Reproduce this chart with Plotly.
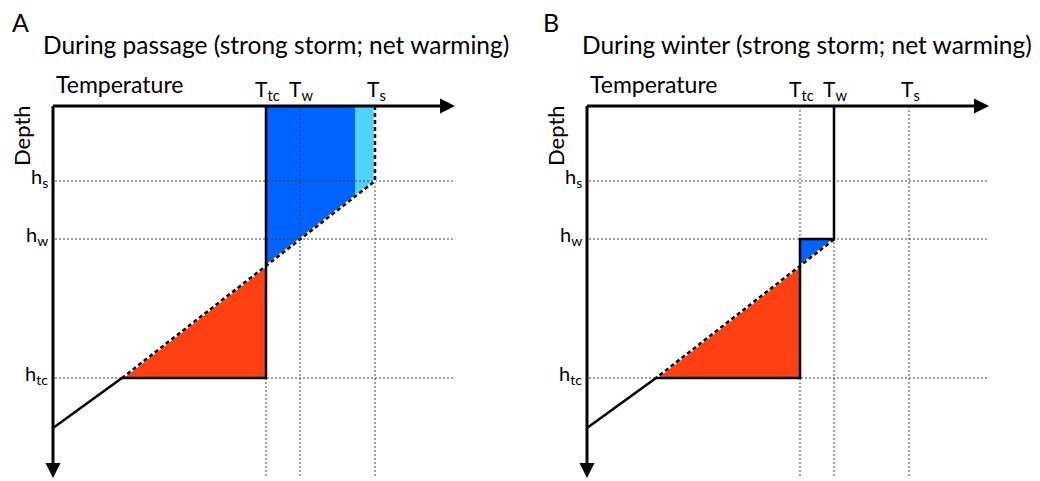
import numpy as np
import plotly.graph_objects as go

# ---- schematic values (temperature / depth in schematic units) ----
T_tc = 213      # temperature of cold wake (after storm mixing)
T_w = 247       # winter mixed-layer temperature
T_s = 322       # summer surface temperature
T_split = 302   # boundary of light-blue region (panel A)
h_s = 75        # summer mixed-layer depth
h_w = 133       # winter mixed-layer depth
h_tc = 272      # storm-mixed depth
T_deep = 69     # temperature of initial profile at h_tc
h_bottom = 322  # depth where profile meets T axis origin
T_axis_end = 402
h_axis_end = 372

panels = ["A", "B"]
titles = ["During passage (strong storm; net warming)",
          "During winter (strong storm; net warming)"]
T_ticks = [T_tc, T_w, T_s]
T_tick_labels = ["T<sub>tc</sub>", "T<sub>w</sub>", "T<sub>s</sub>"]
h_ticks = [h_s, h_w, h_tc]
h_tick_labels = ["h<sub>s</sub>", "h<sub>w</sub>", "h<sub>tc</sub>"]

DARK_BLUE = "#0062FF"
LIGHT_BLUE = "#4FD3F8"
RED = "#FF4013"
FONT = "Lato"


def h_prof(T):
    return float(np.interp(T, [T_deep, T_s], [h_tc, h_s]))


fig = go.Figure()


def add(trace, k):
    trace.update(xaxis="x" if k == 0 else "x2", yaxis="y" if k == 0 else "y2",
                 showlegend=False, hoverinfo="skip")
    fig.add_trace(trace)


for k in range(2):
    # fills
    add(go.Scatter(x=[T_deep, T_tc, T_tc, T_deep], y=[h_tc, h_tc, h_prof(T_tc), h_tc],
                   fill="toself", fillcolor=RED, mode="none"), k)
    if k == 0:
        add(go.Scatter(x=[T_tc, T_split, T_split, T_tc, T_tc],
                       y=[0, 0, h_prof(T_split), h_prof(T_tc), 0],
                       fill="toself", fillcolor=DARK_BLUE, mode="none"), k)
        add(go.Scatter(x=[T_split, T_s, T_s, T_split, T_split],
                       y=[0, 0, h_s, h_prof(T_split), 0],
                       fill="toself", fillcolor=LIGHT_BLUE, mode="none"), k)
    else:
        add(go.Scatter(x=[T_tc, T_w, T_tc, T_tc], y=[h_w, h_w, h_prof(T_tc), h_w],
                       fill="toself", fillcolor=DARK_BLUE, mode="none"), k)
    # dotted guide lines
    for h in h_ticks:
        add(go.Scatter(x=[2, T_axis_end - 2], y=[h, h], mode="lines",
                       line=dict(color="#444444", width=1, dash="2px,2px")), k)
    for T in T_ticks:
        add(go.Scatter(x=[T, T], y=[0, h_axis_end], mode="lines",
                       line=dict(color="#444444", width=1, dash="2px,2px")), k)
    # initial profile (dashed)
    if k == 0:
        px = [T_s, T_s, T_deep]
        py = [0, h_s, h_tc]
    else:
        px = [T_w, T_deep]
        py = [h_prof(T_w), h_tc]
    add(go.Scatter(x=px, y=py, mode="lines", line=dict(color="white", width=2.5)), k)
    add(go.Scatter(x=px, y=py, mode="lines",
                   line=dict(color="black", width=2.5, dash="4px,3px")), k)
    # post-storm profile (solid)
    if k == 0:
        sx = [T_tc, T_tc, T_deep, 0]
        sy = [0, h_tc, h_tc, h_bottom]
    else:
        sx = [T_w, T_w, T_tc, T_tc, T_deep, 0]
        sy = [0, h_w, h_w, h_tc, h_tc, h_bottom]
    add(go.Scatter(x=sx, y=sy, mode="lines",
                   line=dict(color="black", width=2.5, shape="linear")), k)

annotations = []
for k in range(2):
    xr = "x" if k == 0 else "x2"
    yr = "y" if k == 0 else "y2"
    off = 0 if k == 0 else 3
    # axes with arrows
    annotations.append(dict(x=T_axis_end, y=0, ax=-1.5, ay=0, xref=xr, yref=yr,
                            axref=xr, ayref=yr, showarrow=True, arrowhead=2,
                            arrowsize=1.0, arrowwidth=3, arrowcolor="black",
                            standoff=0, text=""))
    annotations.append(dict(x=0, y=h_axis_end, ax=0, ay=-1.5, xref=xr, yref=yr,
                            axref=xr, ayref=yr, showarrow=True, arrowhead=2,
                            arrowsize=1.0, arrowwidth=3, arrowcolor="black",
                            standoff=0, text=""))
    annotations.append(dict(x=-43 - off, y=-84, xref=xr, yref=yr, text=panels[k],
                            showarrow=False, xanchor="left", yanchor="middle",
                            font=dict(family=FONT, size=25, color="black")))
    annotations.append(dict(x=-12 + (5 if k else 0), y=-62, xref=xr, yref=yr, text=titles[k],
                            showarrow=False, xanchor="left", yanchor="middle",
                            font=dict(family=FONT, size=24.5, color="black")))
    annotations.append(dict(x=1, y=-22, xref=xr, yref=yr, text="Temperature",
                            showarrow=False, xanchor="left", yanchor="middle",
                            font=dict(family=FONT, size=23, color="black")))
    annotations.append(dict(x=-32, y=30, xref=xr, yref=yr, text="Depth",
                            showarrow=False, textangle=-90, xanchor="center",
                            yanchor="middle",
                            font=dict(family=FONT, size=22, color="black")))
    for T, lab in zip(T_ticks, T_tick_labels):
        annotations.append(dict(x=T + 1, y=-16, xref=xr, yref=yr, text=lab,
                                showarrow=False, xanchor="center", yanchor="middle",
                                font=dict(family=FONT, size=21, color="black")))
    for h, lab in zip(h_ticks, h_tick_labels):
        annotations.append(dict(x=-3, y=h - 4, xref=xr, yref=yr, text=lab,
                                showarrow=False, xanchor="right", yanchor="middle",
                                font=dict(family=FONT, size=20, color="black")))

ax_common = dict(visible=False, showgrid=False, zeroline=False, fixedrange=True)
# the page body has an 8px margin, so the figure is 8px smaller than the window
fig.update_layout(
    width=1032, height=473, autosize=False,
    margin=dict(l=0, r=0, t=0, b=0),
    plot_bgcolor="white", paper_bgcolor="white",
    xaxis=dict(domain=[0, 0.5], range=[-45, 471], **ax_common),
    xaxis2=dict(domain=[0.5, 1], range=[-63, 453], **ax_common),
    yaxis=dict(domain=[0, 1], range=[375, -98], anchor="x", **ax_common),
    yaxis2=dict(domain=[0, 1], range=[375, -98], anchor="x2", **ax_common),
    annotations=annotations,
)
fig.write_html("out.html")
